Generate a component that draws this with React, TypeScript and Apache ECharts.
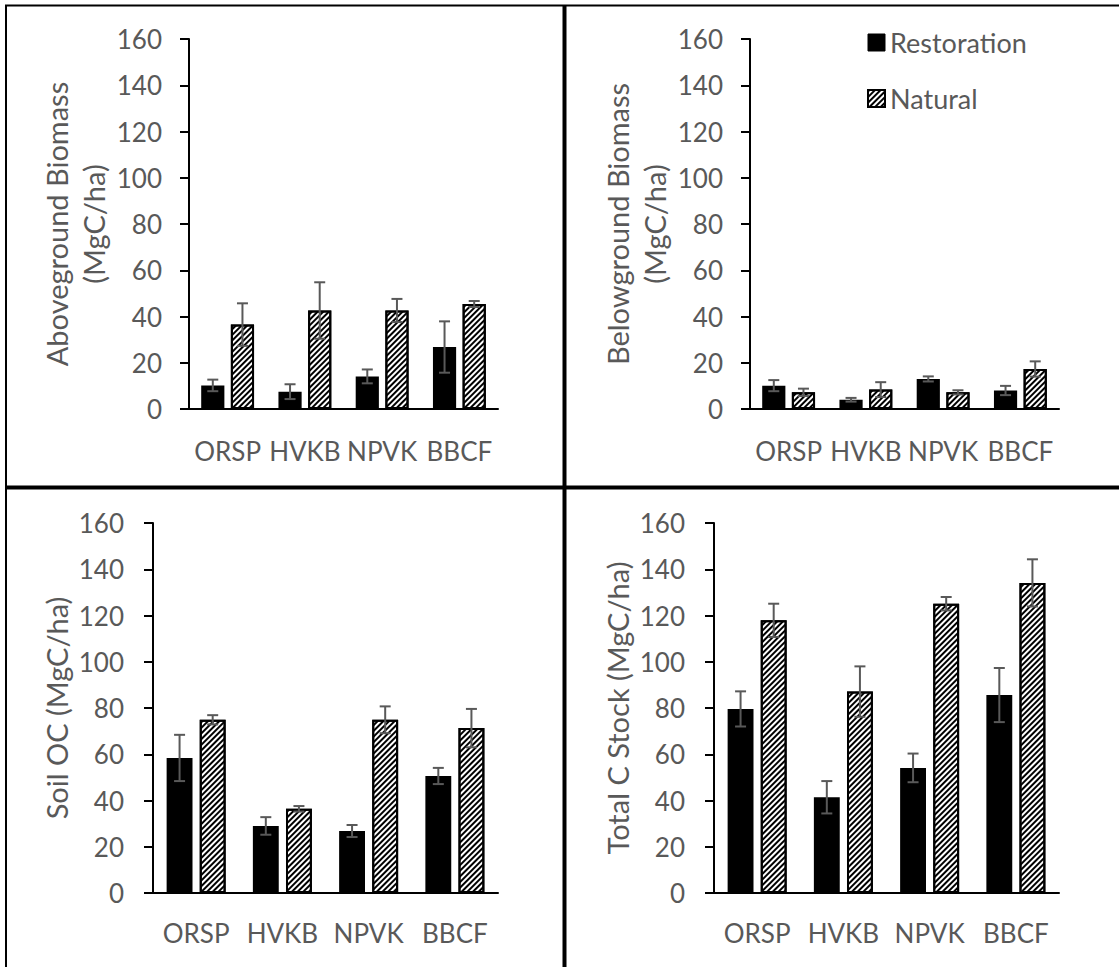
import React, { useEffect, useRef } from "react";
import * as echarts from "echarts";

const categories = ["ORSP", "HVKB", "NPVK", "BBCF"];
const seriesNames = ["Restoration", "Natural"];

const aboveRest = [10.2, 7.5, 14.1, 26.8];
const aboveRestErr = [2.5, 3.2, 3.0, 11.1];
const aboveNat = [36.5, 42.6, 42.6, 45.4];
const aboveNatErr = [9.2, 12.2, 5.0, 1.3];

const belowRest = [10.1, 4.0, 13.0, 8.0];
const belowRestErr = [2.4, 0.8, 1.1, 2.0];
const belowNat = [7.2, 8.4, 7.2, 17.3];
const belowNatErr = [1.6, 3.2, 0.9, 3.3];

const soilRest = [58.4, 29.0, 26.8, 50.6];
const soilRestErr = [10.0, 3.8, 2.6, 3.5];
const soilNat = [74.9, 36.4, 74.9, 71.3];
const soilNatErr = [2.0, 1.2, 5.8, 8.3];

const totalRest = [79.6, 41.4, 54.1, 85.6];
const totalRestErr = [7.6, 7.0, 6.2, 11.7];
const totalNat = [117.9, 87.1, 125.1, 134.1];
const totalNatErr = [7.2, 10.9, 2.9, 10.2];

const axisNames = [
  "Aboveground Biomass\n(MgC/ha)",
  "Belowground Biomass\n(MgC/ha)",
  "Soil OC (MgC/ha)",
  "Total C Stock (MgC/ha)",
];

const panels = [
  { rest: aboveRest, restErr: aboveRestErr, nat: aboveNat, natErr: aboveNatErr },
  { rest: belowRest, restErr: belowRestErr, nat: belowNat, natErr: belowNatErr },
  { rest: soilRest, restErr: soilRestErr, nat: soilNat, natErr: soilNatErr },
  { rest: totalRest, restErr: totalRestErr, nat: totalNat, natErr: totalNatErr },
];

const grids = [
  { left: 189, top: 39, width: 309, height: 370 },
  { left: 750, top: 39, width: 309, height: 370 },
  { left: 153, top: 523, width: 345, height: 370 },
  { left: 714, top: 523, width: 345, height: 370 },
];

const FONT = "Lato";
const GRAY = "#595959";
const BAR_W = 0.3;
const BAR_GAP = 0.28;

const decal = {
  symbol: "rect",
  symbolSize: 1,
  color: "#000",
  dashArrayX: [1, 0],
  dashArrayY: [1.2, 1.8],
  rotation: -Math.PI / 4,
};

function errorRender(sign: number) {
  return (params: any, api: any) => {
    const x = api.value(0);
    const v = api.value(1);
    const e = api.value(2);
    const band = api.size([1, 0])[0];
    const bw = band * BAR_W;
    const off = ((bw + bw * BAR_GAP) / 2) * sign;
    const top = api.coord([x, v + e]);
    const bot = api.coord([x, v - e]);
    const cx = top[0] + off;
    const style = { stroke: GRAY, lineWidth: 2 };
    return {
      type: "group",
      children: [
        { type: "line", shape: { x1: cx, y1: top[1], x2: cx, y2: bot[1] }, style },
        { type: "line", shape: { x1: cx - 5.5, y1: top[1], x2: cx + 5.5, y2: top[1] }, style },
        { type: "line", shape: { x1: cx - 5.5, y1: bot[1], x2: cx + 5.5, y2: bot[1] }, style },
      ],
    };
  };
}

export default function App() {
  const ref = useRef<HTMLDivElement>(null);
  useEffect(() => {
    const chart = echarts.init(ref.current!, null, { renderer: "svg" });
    const series: any[] = [];
    panels.forEach((p, i) => {
      series.push({
        name: seriesNames[0],
        type: "bar",
        xAxisIndex: i,
        yAxisIndex: i,
        data: p.rest,
        barWidth: BAR_W * 100 + "%",
        barGap: BAR_GAP * 100 + "%",
        itemStyle: { color: "#000", borderColor: "#000", borderWidth: 2 },
      });
      series.push({
        name: seriesNames[1],
        type: "bar",
        xAxisIndex: i,
        yAxisIndex: i,
        data: p.nat,
        barWidth: BAR_W * 100 + "%",
        barGap: BAR_GAP * 100 + "%",
        itemStyle: { color: "#fff", borderColor: "#000", borderWidth: 2, decal },
      });
      series.push({
        type: "custom",
        xAxisIndex: i,
        yAxisIndex: i,
        z: 5,
        renderItem: errorRender(-1),
        data: p.rest.map((v, k) => [k, v, p.restErr[k]]),
      });
      series.push({
        type: "custom",
        xAxisIndex: i,
        yAxisIndex: i,
        z: 5,
        renderItem: errorRender(1),
        data: p.nat.map((v, k) => [k, v, p.natErr[k]]),
      });
    });

    const option: any = {
      animation: false,
      backgroundColor: "#fff",
      textStyle: { fontFamily: FONT },
      legend: {
        data: [
          { name: seriesNames[0], itemStyle: { color: "#000", borderColor: "#000", borderWidth: 1 } },
          { name: seriesNames[1], itemStyle: { color: "#fff", borderColor: "#000", borderWidth: 2, decal } },
        ],
        orient: "vertical",
        left: 862,
        top: 24,
        itemWidth: 17,
        itemHeight: 17,
        itemGap: 29,
        icon: "rect",
        textStyle: { fontSize: 27, color: GRAY, fontFamily: FONT },
      },
      grid: grids.map((g) => ({ ...g, containLabel: false })),
      xAxis: grids.map((_, i) => ({
        type: "category",
        gridIndex: i,
        data: categories,
        axisLine: { lineStyle: { color: "#000", width: 2 } },
        axisTick: { show: false },
        axisLabel: {
          interval: 0,
          color: GRAY,
          fontSize: 26,
          fontFamily: FONT,
          margin: i < 2 ? 29 : 27,
        },
      })),
      yAxis: grids.map((_, i) => ({
        type: "value",
        gridIndex: i,
        min: 0,
        max: 160,
        interval: 20,
        name: axisNames[i],
        nameLocation: "middle",
        nameRotate: 90,
        nameGap: 77,
        nameTextStyle: { color: GRAY, fontSize: 29, fontFamily: FONT, lineHeight: 37 },
        splitLine: { show: false },
        axisLine: { show: true, lineStyle: { color: "#000", width: 2 } },
        axisTick: { show: true, length: 9, lineStyle: { color: "#000", width: 2 } },
        axisLabel: { color: GRAY, fontSize: 26, fontFamily: FONT, margin: i < 2 ? 27 : 29 },
      })),
      series,
      graphic: [
        { type: "line", shape: { x1: 5, y1: 5.5, x2: 1119, y2: 5.5 }, style: { stroke: "#000", lineWidth: 2 } },
        { type: "line", shape: { x1: 6, y1: 5, x2: 6, y2: 967 }, style: { stroke: "#000", lineWidth: 2 } },
        { type: "line", shape: { x1: 564.5, y1: 5, x2: 564.5, y2: 967 }, style: { stroke: "#000", lineWidth: 4 } },
        { type: "line", shape: { x1: 5, y1: 487.5, x2: 1119, y2: 487.5 }, style: { stroke: "#000", lineWidth: 4 } },
      ],
    };
    chart.setOption(option);
    return () => chart.dispose();
  }, []);
  return (
    <div
      ref={ref}
      style={{ position: "fixed", left: 0, top: 0, width: 1119, height: 967 }}
    />
  );
}
